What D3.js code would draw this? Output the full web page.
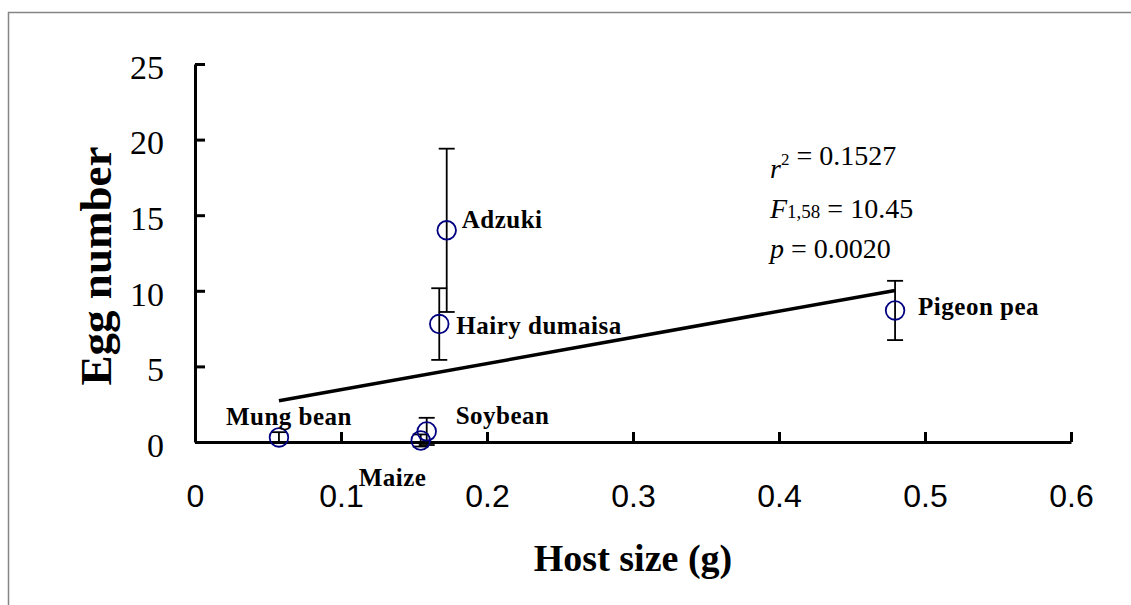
<!DOCTYPE html>
<html>
<head>
<meta charset="utf-8">
<script src="https://cdn.jsdelivr.net/npm/d3@7"></script>
<style>
  body { margin: 0; background: #fff; }
  svg { display: block; }
</style>
</head>
<body>
<div id="chart"></div>
<script>
// host plants: seed size (g) and mean egg number with error
const hosts = ["Mung bean", "Maize", "Soybean", "Hairy dumaisa", "Adzuki", "Pigeon pea"];
const hostSize = [0.0575, 0.1546, 0.1587, 0.1673, 0.1724, 0.4795];
const eggNumber = [0.3, 0.1, 0.7, 7.8, 14.0, 8.7];
const eggError = [0.35, 0.4, 0.9, 2.37, 5.4, 1.96];

const xTicks = [0, 0.1, 0.2, 0.3, 0.4, 0.5, 0.6];
const yTicks = [0, 5, 10, 15, 20, 25];

// linear fit: egg = a + b * size
const fitIntercept = 1.73;
const fitSlope = 17.3;

const statLines = [
    [{t: "r", it: true}, {t: "2", sup: true}, {t: " = 0.1527"}],
    [{t: "F", it: true}, {t: "1,58", sub: true}, {t: " = 10.45"}],
    [{t: "p", it: true}, {t: " = 0.0020"}]
];

const width = 1131, height = 605;
const margin = {top: 64, right: 60, bottom: 163, left: 195};
const serif = "'Liberation Serif', 'Times New Roman', serif";

const svg = d3.select("#chart").append("svg")
    .attr("width", width)
    .attr("height", height)
    .style("background", "#fff");

// outer frame (only top/left edges are visible in the picture)
svg.append("rect")
    .attr("x", 8.5).attr("y", 12.5)
    .attr("width", width + 20).attr("height", height + 20)
    .attr("fill", "none")
    .attr("stroke", "#858585")
    .attr("stroke-width", 1.5);

const x = d3.scaleLinear().domain([0, 0.6]).range([margin.left, width - margin.right]);
const y = d3.scaleLinear().domain([0, 25]).range([height - margin.bottom, margin.top]);

const data = hosts.map((h, i) => ({host: h, size: hostSize[i], egg: eggNumber[i], err: eggError[i]}));

// axes, ticks pointing inward
const xAxis = svg.append("g")
    .attr("transform", `translate(0,${y(0)})`)
    .call(d3.axisBottom(x).tickValues(xTicks).tickSizeInner(-10).tickSizeOuter(0)
        .tickPadding(42).tickFormat(d => d === 0 ? "0" : d3.format(".1f")(d)));
xAxis.selectAll("path, line").attr("stroke", "#000").attr("stroke-width", 3);
xAxis.selectAll("text")
    .attr("fill", "#000")
    .style("font-family", "'Liberation Sans', Arial, sans-serif")
    .style("font-size", "32px");

const yAxis = svg.append("g")
    .attr("transform", `translate(${x(0)},0)`)
    .call(d3.axisLeft(y).tickValues(yTicks).tickSizeInner(-10).tickSizeOuter(0).tickPadding(31));
yAxis.selectAll("path, line").attr("stroke", "#000").attr("stroke-width", 3);
yAxis.selectAll("text")
    .attr("fill", "#000")
    .attr("dy", "0.42em")
    .style("font-family", serif)
    .style("font-size", "34px");

// axis titles
svg.append("text")
    .attr("x", (x(0) + x(0.6)) / 2)
    .attr("y", 571)
    .attr("text-anchor", "middle")
    .style("font-family", serif)
    .style("font-weight", "bold")
    .style("font-size", "38px")
    .text("Host size (g)");

svg.append("text")
    .attr("transform", `translate(111,${(y(0) + y(25)) / 2 + 13}) rotate(-90)`)
    .attr("text-anchor", "middle")
    .style("font-family", serif)
    .style("font-weight", "bold")
    .style("font-size", "45px")
    .text("Egg number");

// regression line over the range of host sizes
const xExt = d3.extent(hostSize);
svg.append("line")
    .attr("x1", x(xExt[0])).attr("y1", y(fitIntercept + fitSlope * xExt[0]))
    .attr("x2", x(xExt[1])).attr("y2", y(fitIntercept + fitSlope * xExt[1]))
    .attr("stroke", "#000")
    .attr("stroke-width", 3.5);

// error bars
const cap = 8;
const bars = svg.append("g").attr("stroke", "#000").attr("stroke-width", 1.8);
data.forEach(d => {
    const cx = x(d.size);
    const lo = y(d.egg - d.err), hi = y(d.egg + d.err);
    bars.append("line").attr("x1", cx).attr("x2", cx).attr("y1", lo).attr("y2", hi);
    bars.append("line").attr("x1", cx - cap).attr("x2", cx + cap).attr("y1", lo).attr("y2", lo);
    bars.append("line").attr("x1", cx - cap).attr("x2", cx + cap).attr("y1", hi).attr("y2", hi);
});

// points
svg.append("g").selectAll("circle")
    .data(data)
    .join("circle")
    .attr("cx", d => x(d.size))
    .attr("cy", d => y(d.egg))
    .attr("r", 9.3)
    .attr("fill", "none")
    .attr("stroke", "#000080")
    .attr("stroke-width", 1.8);

// host labels, offset from their point
const labelOffset = {
    "Mung bean": [-53, -12],
    "Maize": [-62, 46],
    "Soybean": [29, -7],
    "Hairy dumaisa": [17, 10],
    "Adzuki": [15, -2],
    "Pigeon pea": [23, 5]
};
svg.append("g").selectAll("text")
    .data(data)
    .join("text")
    .attr("x", d => x(d.size) + labelOffset[d.host][0])
    .attr("y", d => y(d.egg) + labelOffset[d.host][1])
    .style("font-family", serif)
    .style("font-weight", "bold")
    .style("font-size", "25px")
    .style("letter-spacing", "0.5px")
    .text(d => d.host);

// fit statistics
const stats = svg.append("g")
    .style("font-family", serif)
    .style("font-size", "28px");
statLines.forEach((parts, i) => {
    const t = stats.append("text").attr("x", 770).attr("y", 178 + i * 40);
    parts.forEach(p => {
        const s = t.append("tspan").text(p.t);
        if (p.it) s.style("font-style", "italic");
        if (p.sup) s.style("font-size", "17px").attr("dy", -13);
        if (p.sub) s.style("font-size", "19px");
        if (p.sup) t.append("tspan").attr("dy", 13).text("");
    });
});
</script>
</body>
</html>
